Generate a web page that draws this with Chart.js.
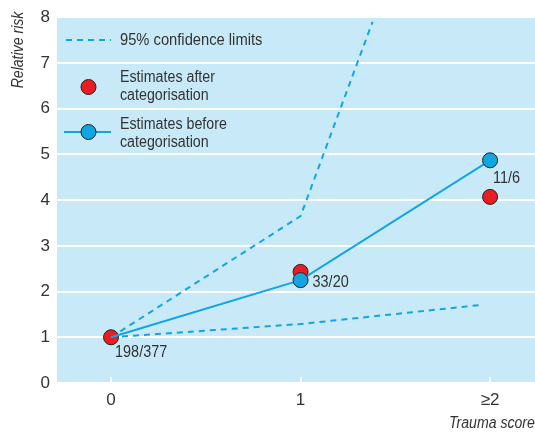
<!DOCTYPE html>
<html>
<head>
<meta charset="utf-8">
<script src="https://cdn.jsdelivr.net/npm/chart.js@4/dist/chart.umd.min.js"></script>
<style>
html,body{margin:0;padding:0;background:#fff;}
#wrap{width:535px;height:434px;position:relative;}
</style>
</head>
<body>
<div id="wrap"><canvas id="c" width="535" height="434"></canvas></div>
<script>
// Data
const categories = [0, 1, 2];
const tickLabels = ['0', '1', '\u22652'];
const beforeValues = [1.0, 2.25, 4.87];
const afterValues = [1.0, 2.43, 4.07];
const upperX = [0, 1, 1.38];
const upperCI = [1.0, 3.65, 7.9];
const lowerX = [0, 1, 1.96];
const lowerCI = [1.0, 1.29, 1.71];
const countLabels = ['198/377', '33/20', '11/6'];
const legendLabels = [['95% confidence limits'], ['Estimates after', 'categorisation'], ['Estimates before', 'categorisation']];
const yTitle = 'Relative risk';
const xTitle = 'Trauma score';

const FONT = "'Liberation Sans', Arial, sans-serif";
const BLUE = '#12a5e3';
const RED = '#ea1c24';
const BG = '#c8e9f8';
const TXT = '#333333';

const toXY = (xs, ys) => xs.map((x, i) => ({x: x, y: ys[i]}));

function narrowText(ctx, text, x, y, sx) {
  ctx.save();
  ctx.translate(x, y);
  ctx.scale(sx, 1);
  ctx.fillText(text, 0, 0);
  ctx.restore();
}

const bgPlugin = {
  id: 'bg',
  beforeDraw(chart) {
    const {ctx, chartArea: a} = chart;
    ctx.save();
    ctx.fillStyle = BG;
    ctx.fillRect(a.left, a.top, a.right - a.left, a.bottom - a.top);
    ctx.restore();
  },
  beforeDatasetsDraw(chart) {
    const {ctx, chartArea: a, scales} = chart;
    ctx.save();
    ctx.strokeStyle = '#ffffff';
    ctx.lineWidth = 2;
    categories.forEach(c => {
      const x = Math.round(scales.x.getPixelForValue(c));
      ctx.beginPath();
      ctx.moveTo(x, a.bottom);
      ctx.lineTo(x, a.bottom - 6);
      ctx.stroke();
    });
    ctx.restore();
  },
  afterDraw(chart) {
    const {ctx, scales} = chart;
    ctx.save();
    ctx.fillStyle = TXT;
    ctx.font = "17px " + FONT;
    ctx.textBaseline = 'middle';
    ctx.textAlign = 'left';
    // count labels
    const offs = [[4, 15], [12, 2], [3, 18]];
    categories.forEach((c, i) => {
      const x = scales.x.getPixelForValue(c);
      const y = scales.y.getPixelForValue(beforeValues[i]);
      narrowText(ctx, countLabels[i], x + offs[i][0], y + offs[i][1], 0.85);
    });
    // legend
    ctx.font = "16px " + FONT;
    const SX = 0.89;
    const lx0 = 66, lx1 = 111, tx = 120;
    ctx.strokeStyle = BLUE; ctx.lineWidth = 2;
    ctx.setLineDash([6, 5]);
    ctx.beginPath(); ctx.moveTo(lx0, 40); ctx.lineTo(lx1, 40); ctx.stroke();
    ctx.setLineDash([]);
    narrowText(ctx, legendLabels[0][0], tx, 41, 0.92);
    ctx.beginPath(); ctx.arc(88.5, 87, 7.5, 0, Math.PI * 2);
    ctx.fillStyle = RED; ctx.fill();
    ctx.strokeStyle = '#222'; ctx.lineWidth = 1; ctx.stroke();
    ctx.fillStyle = TXT;
    narrowText(ctx, legendLabels[1][0], tx, 78, SX);
    narrowText(ctx, legendLabels[1][1], tx, 96, SX);
    ctx.strokeStyle = BLUE; ctx.lineWidth = 2;
    ctx.beginPath(); ctx.moveTo(lx0 - 2, 132); ctx.lineTo(lx1, 132); ctx.stroke();
    ctx.beginPath(); ctx.arc(88.5, 132, 7.5, 0, Math.PI * 2);
    ctx.fillStyle = BLUE; ctx.fill();
    ctx.strokeStyle = '#222'; ctx.lineWidth = 1; ctx.stroke();
    ctx.fillStyle = TXT;
    narrowText(ctx, legendLabels[2][0], tx, 125, SX);
    narrowText(ctx, legendLabels[2][1], tx, 143, SX);
    // axis titles
    ctx.font = "italic 16px " + FONT;
    ctx.save();
    ctx.translate(19, 50);
    ctx.rotate(-Math.PI / 2);
    ctx.scale(0.88, 1);
    ctx.textAlign = 'center';
    ctx.fillText(yTitle, 0, 0);
    ctx.restore();
    ctx.textAlign = 'left';
    narrowText(ctx, xTitle, 449, 424, 0.88);
    ctx.restore();
  }
};

new Chart(document.getElementById('c'), {
  type: 'line',
  data: {
    datasets: [
      {
        label: 'Estimates before categorisation',
        data: toXY(categories, beforeValues),
        borderColor: BLUE, backgroundColor: BLUE,
        borderWidth: 2,
        pointRadius: [0, 7.5, 7.5],
        pointBorderColor: '#222', pointBorderWidth: 1,
        pointBackgroundColor: BLUE,
        order: 1
      },
      {
        label: 'Estimates after categorisation',
        data: toXY(categories, afterValues),
        showLine: false,
        pointRadius: 7.5,
        pointBorderColor: '#222', pointBorderWidth: 1,
        pointBackgroundColor: RED,
        order: 2
      },
      {
        label: 'Upper 95% CI',
        data: toXY(upperX, upperCI),
        borderColor: BLUE, borderWidth: 2, borderDash: [6, 5],
        pointRadius: 0, order: 3
      },
      {
        label: 'Lower 95% CI',
        data: toXY(lowerX, lowerCI),
        borderColor: BLUE, borderWidth: 2, borderDash: [6, 5],
        pointRadius: 0, order: 3
      }
    ]
  },
  options: {
    responsive: false,
    animation: false,
    layout: {autoPadding: false, padding: {top: 17, right: 0, left: 0, bottom: 0}},
    plugins: {legend: {display: false}, tooltip: {enabled: false}},
    scales: {
      x: {
        type: 'linear',
        min: -0.285, max: 2.237,
        afterFit(s) { s.height = 51; s.paddingRight = 0; s.paddingLeft = 0; },
        afterBuildTicks(s) { s.ticks = categories.map(v => ({value: v})); },
        grid: {display: false, drawTicks: false},
        border: {display: false},
        ticks: {
          padding: 7,
          color: TXT,
          font: {family: FONT, size: 17},
          callback: (v) => tickLabels[categories.indexOf(v)]
        }
      },
      y: {
        min: 0, max: 8,
        afterFit(s) { s.width = 57; },
        grid: {color: '#ffffff', lineWidth: 2, drawTicks: false},
        border: {display: false},
        ticks: {
          stepSize: 1,
          padding: 7,
          color: TXT,
          font: {family: FONT, size: 17}
        }
      }
    }
  },
  plugins: [bgPlugin]
});
</script>
</body>
</html>
